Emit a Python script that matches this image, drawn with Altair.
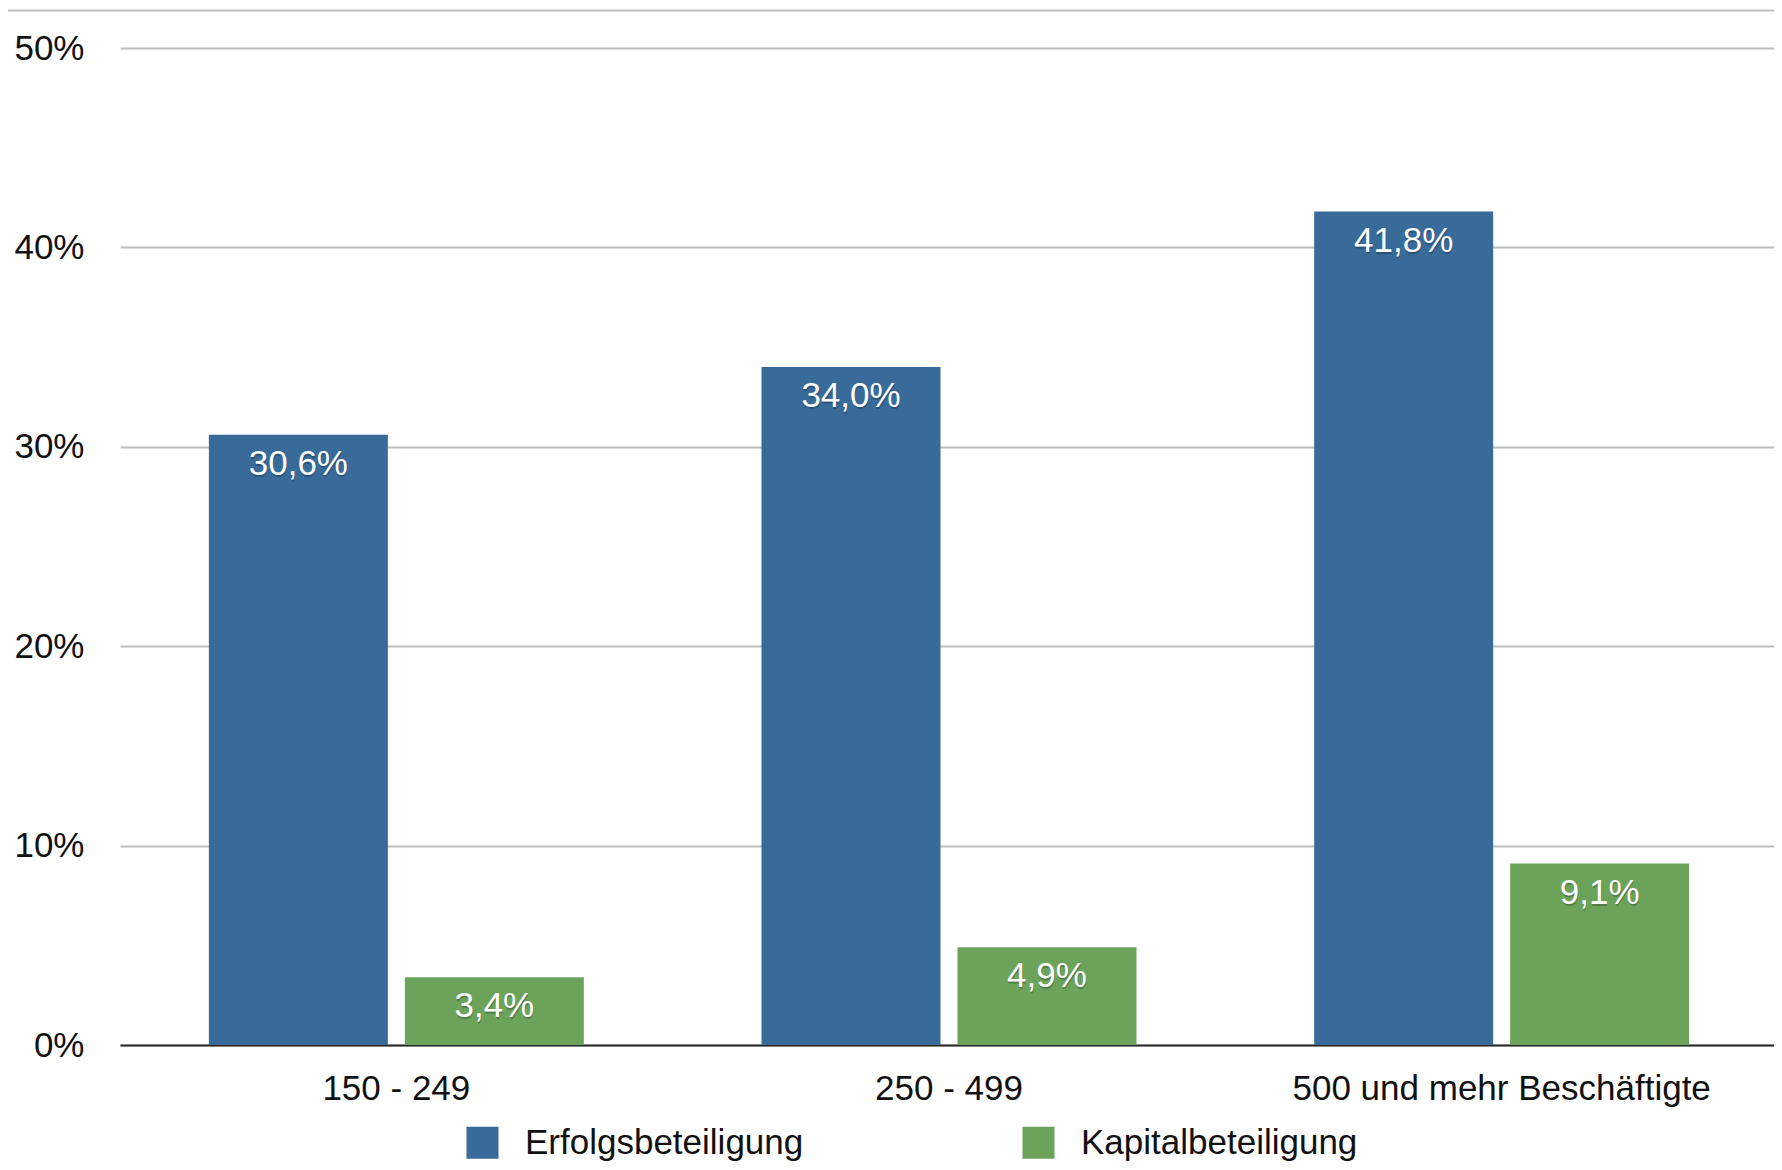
import altair as alt
import pandas as pd

categories = ["150 - 249", "250 - 499", "500 und mehr Beschäftigte"]
series_names = ["Erfolgsbeteiligung", "Kapitalbeteiligung"]
erfolg = [30.6, 34.0, 41.8]
kapital = [3.4, 4.9, 9.1]
y_ticks = [0, 10, 20, 30, 40, 50]
colors = ["#386A9A", "#6CA35B"]

rows = []
for c, e, k in zip(categories, erfolg, kapital):
    rows.append({"cat": c, "series": series_names[0], "value": e})
    rows.append({"cat": c, "series": series_names[1], "value": k})
df = pd.DataFrame(rows)

FONT = "Liberation Sans"
W, H = 1654, 997

x = alt.X("cat:N", sort=categories, title=None,
          scale=alt.Scale(range=[0, 1658], paddingInner=0.3215, paddingOuter=0.1608),
          axis=alt.Axis(labelAngle=0, labelFontSize=35, labelFont=FONT, labelColor="#111111",
                        tickSize=0, labelPadding=54, labelBaseline="alphabetic", labelLimit=1000,
                        domainColor="#2a2a2a", domainWidth=2, grid=False))
xo = alt.XOffset("series:N", sort=series_names,
                 scale=alt.Scale(paddingInner=0.0867, paddingOuter=0))
y = alt.Y("value:Q", title=None,
          scale=alt.Scale(domain=[0, 50], nice=False, zero=True),
          axis=alt.Axis(values=y_ticks, labelExpr="datum.value + '%'", labelFontSize=35,
                        labelFont=FONT, labelColor="#111111", tickSize=0, labelPadding=36,
                        labelAlign="right", domain=False, grid=True, gridColor="#bdbdbd",
                        gridWidth=2))

bars = alt.Chart(df).mark_bar(size=179).encode(
    x=x, xOffset=xo, y=y,
    color=alt.Color("series:N", sort=series_names,
                    scale=alt.Scale(domain=series_names, range=colors),
                    legend=alt.Legend(title=None, orient="none", direction="horizontal",
                                      legendX=345, legendY=1077, padding=0,
                                      symbolType="square", symbolSize=1024, symbolStrokeWidth=0,
                                      symbolOpacity=1,
                                      labelFontSize=35, labelFont=FONT, labelColor="#111111",
                                      labelOffset=25, columnPadding=217, labelLimit=600)),
)

lab_base = alt.Chart(df).transform_calculate(
    lab="replace(format(datum.value, '.1f'), '.', ',') + '%'"
)
shadow = lab_base.mark_text(baseline="alphabetic", dy=42, dx=0.5, fontSize=35, font=FONT,
                            color="#000000", opacity=0.22).encode(
    x=alt.X("cat:N", sort=categories), xOffset=xo, y="value:Q", text="lab:N"
)
labels = lab_base.mark_text(baseline="alphabetic", dy=40, fontSize=35, font=FONT,
                            color="white").encode(
    x=alt.X("cat:N", sort=categories), xOffset=xo, y="value:Q", text="lab:N"
)

top_line = alt.Chart(pd.DataFrame({"a": [0]})).mark_rule(color="#bdbdbd", strokeWidth=2).encode(
    x=alt.value(-114), x2=alt.value(1660), y=alt.value(-37.5)
)

chart = alt.layer(bars, shadow, labels, top_line).properties(
    width=W, height=H,
    autosize=alt.AutoSizeParams(type="none"),
    padding={"left": 112, "top": 40, "right": 0, "bottom": 117},
).configure_view(stroke=None)

chart.save("out.html", embed_options={"renderer": "svg", "actions": False})
